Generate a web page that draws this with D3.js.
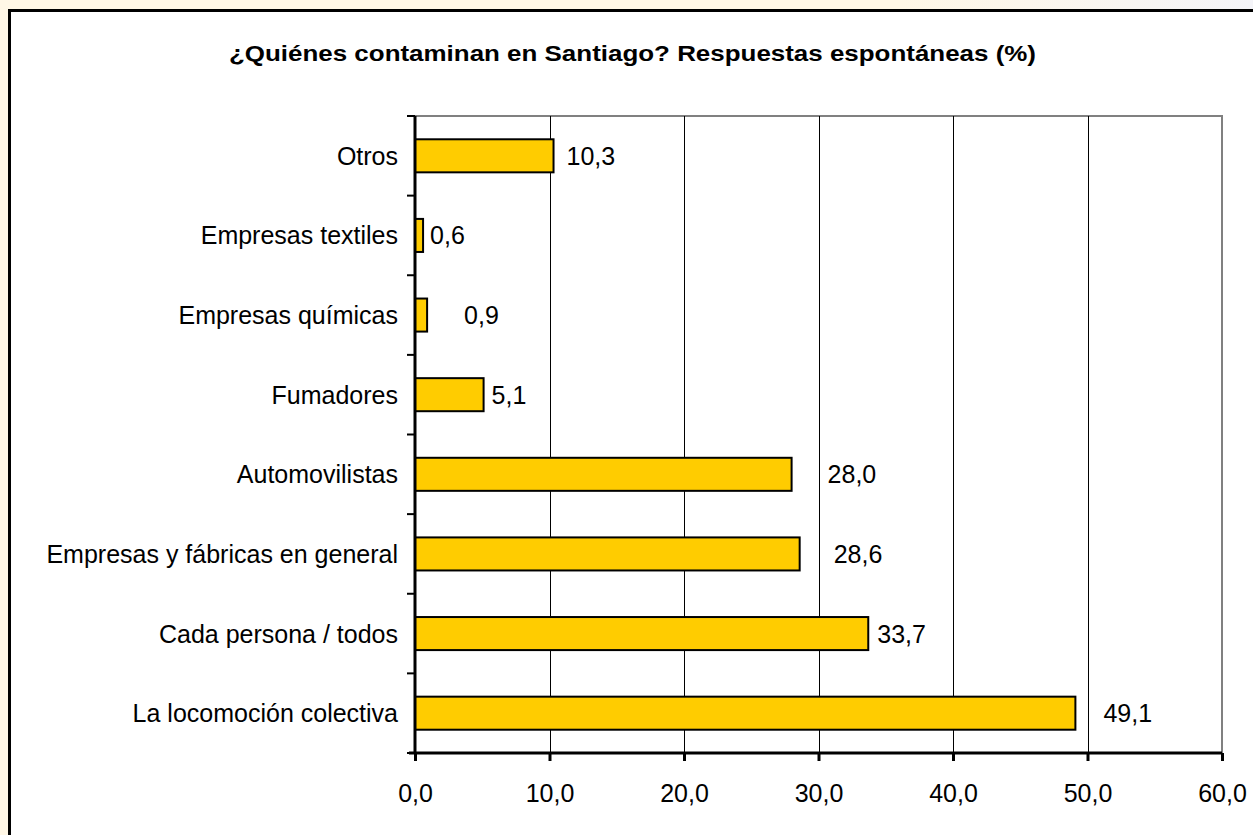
<!DOCTYPE html>
<html>
<head>
<meta charset="utf-8">
<script src="https://cdn.jsdelivr.net/npm/d3@7"></script>
<style>
    body { margin: 0; background: #fff7e6; }
    text { font-family: "Liberation Sans", Arial, sans-serif; fill: #000; }
</style>
</head>
<body>
<div id="chart"></div>
<script>
// data (top to bottom as in the chart)
const categories = ["Otros", "Empresas textiles", "Empresas químicas", "Fumadores",
    "Automovilistas", "Empresas y fábricas en general", "Cada persona / todos", "La locomoción colectiva"];
const values = [10.3, 0.6, 0.9, 5.1, 28.0, 28.6, 33.7, 49.1];
const xTicks = [0, 10, 20, 30, 40, 50, 60];
const chartTitle = "¿Quiénes contaminan en Santiago? Respuestas espontáneas (%)";

// Excel-like nudges for the value labels (px to the right of bar end)
const labelGap = [13, 7, 37, 8, 36, 34, 9, 28];

const W = 1253, H = 835;
const margin = {top: 116, right: 31, bottom: 82, left: 415};
const width = W - margin.left - margin.right;
const height = H - margin.top - margin.bottom;
const fontSize = "25px";

const svg = d3.select("#chart").append("svg")
    .attr("width", W)
    .attr("height", H);

// faded strip top right
const grad = svg.append("defs").append("linearGradient")
    .attr("id", "fade").attr("x1", 0).attr("x2", 1);
grad.append("stop").attr("offset", "0%").attr("stop-color", "#fff7e6");
grad.append("stop").attr("offset", "100%").attr("stop-color", "#f4f4f8");
svg.append("rect").attr("x", 900).attr("y", 0).attr("width", W - 900).attr("height", 10)
    .attr("fill", "url(#fade)");

// chart area with black frame
svg.append("rect")
    .attr("x", 9.5).attr("y", 10.5)
    .attr("width", W).attr("height", H)
    .attr("fill", "#fff")
    .attr("stroke", "#000")
    .attr("stroke-width", 3);

svg.append("text")
    .attr("x", 229).attr("y", 61)
    .attr("font-weight", "bold")
    .attr("font-size", "22px")
    .attr("textLength", 807)
    .attr("lengthAdjust", "spacingAndGlyphs")
    .text(chartTitle);

const g = svg.append("g")
    .attr("transform", "translate(" + margin.left + "," + margin.top + ")");

const x = d3.scaleLinear().domain([0, 60]).range([0, width]);
const y = d3.scaleBand().domain(categories).range([0, height]).paddingInner(0.585).paddingOuter(0.2925);

// plot area border (grey top/right)
g.append("path")
    .attr("d", "M0,0H" + width + "V" + height)
    .attr("fill", "none")
    .attr("stroke", "#808080")
    .attr("stroke-width", 2);

// gridlines
g.selectAll(".grid").data(xTicks.slice(1, -1)).enter().append("line")
    .attr("x1", d => Math.round(x(d)) + 0.5).attr("x2", d => Math.round(x(d)) + 0.5)
    .attr("y1", 0).attr("y2", height)
    .attr("stroke", "#000").attr("stroke-width", 1);

// bars
g.selectAll(".bar").data(values).enter().append("rect")
    .attr("x", 0)
    .attr("y", (d, i) => y(categories[i]))
    .attr("width", d => x(d))
    .attr("height", y.bandwidth())
    .attr("fill", "#ffcc00")
    .attr("stroke", "#000")
    .attr("stroke-width", 2);

// value labels
g.selectAll(".lbl").data(values).enter().append("text")
    .attr("x", (d, i) => x(d) + labelGap[i])
    .attr("y", (d, i) => y(categories[i]) + y.bandwidth() / 2)
    .attr("dy", "0.36em")
    .attr("font-size", fontSize)
    .text(d => d3.format(".1f")(d).replace(".", ","));

// x axis
const xAxis = d3.axisBottom(x).tickValues(xTicks)
    .tickSize(8).tickPadding(23)
    .tickFormat(d => d3.format(".1f")(d).replace(".", ","));
const xg = g.append("g")
    .attr("transform", "translate(0," + height + ")")
    .call(xAxis);
xg.select(".domain").attr("stroke-width", 3).attr("d", "M-6,0H" + width);
xg.selectAll(".tick line").attr("stroke-width", 3);
xg.selectAll("text").attr("font-size", fontSize).attr("font-family", null);

// y axis: ticks sit on category boundaries
const yg = g.append("g");
yg.append("line").attr("x1", 0).attr("x2", 0).attr("y1", 0).attr("y2", height)
    .attr("stroke", "#000").attr("stroke-width", 3);
yg.selectAll(".ytick").data(d3.range(categories.length + 1)).enter().append("line")
    .attr("x1", -8).attr("x2", 0)
    .attr("y1", i => i * height / categories.length)
    .attr("y2", i => i * height / categories.length)
    .attr("stroke", "#000").attr("stroke-width", 2);
yg.selectAll(".ylab").data(categories).enter().append("text")
    .attr("x", -17)
    .attr("y", d => y(d) + y.bandwidth() / 2)
    .attr("dy", "0.36em")
    .attr("text-anchor", "end")
    .attr("font-size", fontSize)
    .text(d => d);
</script>
</body>
</html>
